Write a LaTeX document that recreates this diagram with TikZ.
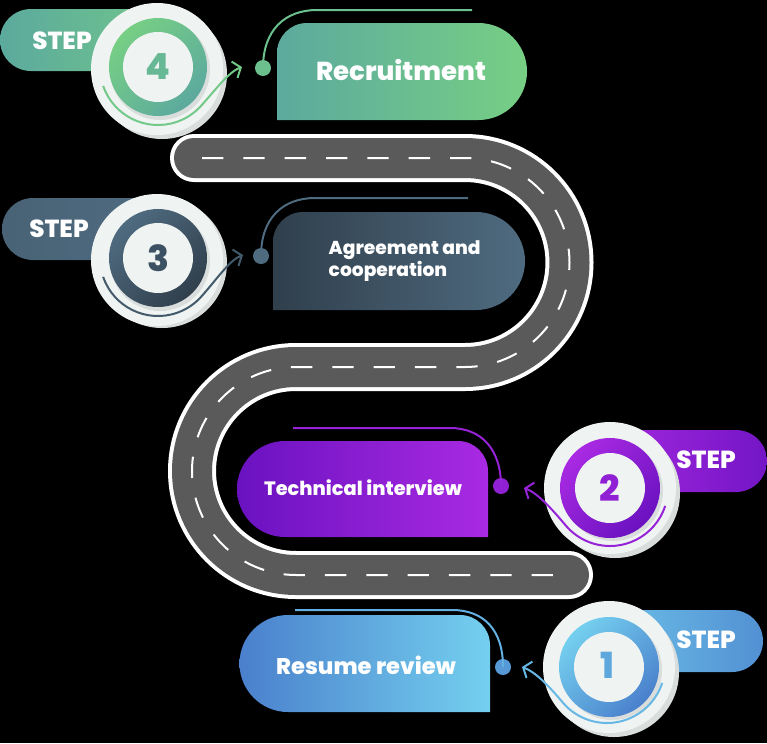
\documentclass[tikz,border=0pt]{standalone}
\usepackage{fontspec}
\setmainfont{Poppins}[BoldFont={* ExtraBold}]
\usetikzlibrary{arrows.meta}

\definecolor{road}{HTML}{5A5A5A}
\definecolor{halo}{HTML}{EFF3F2}
\definecolor{haloshade}{HTML}{D9DDDC}
\definecolor{grnA}{HTML}{5CA99E}
\definecolor{grnB}{HTML}{77CF84}
\definecolor{slateA}{HTML}{303F4C}
\definecolor{slateB}{HTML}{4F6B80}
\definecolor{purA}{HTML}{6A12C0}
\definecolor{purB}{HTML}{A92AE2}
\definecolor{bluA}{HTML}{4A80CC}
\definecolor{bluB}{HTML}{74D0EF}

\begin{document}
\begin{tikzpicture}[x=0.75pt,y=0.75pt,
  steptag/.style={text=white,font=\bfseries\fontsize{18.5}{18.5}\selectfont},
  cardtext/.style={text=white,font=\bfseries\fontsize{18}{20}\selectfont},
  num/.style={font=\bfseries\fontsize{27}{27}\selectfont},
  joint/.style={circle,inner sep=0pt,minimum size=12pt},
  guide/.style={line width=1.5pt},
  curl/.style={line width=1.5pt,-{Straight Barb[length=5pt,width=13pt,line width=1.5pt]}}]
  \fill[black] (0,0) rectangle (767,-743);

  % road
  \draw[white,line width=36pt,line cap=round] (194,-158) -- (465,-158) arc[start angle=90,end angle=-90,radius=104.5]
    -- (296,-367) arc[start angle=90,end angle=270,radius=104] -- (569,-575);
  \draw[road,line width=30pt,line cap=round] (194,-158) -- (465,-158) arc[start angle=90,end angle=-90,radius=104.5]
    -- (296,-367) arc[start angle=90,end angle=270,radius=104] -- (569,-575);
  \draw[white,line width=1.5pt,dash pattern=on 16pt off 15pt,dash phase=-6pt] (194,-158) -- (465,-158) arc[start angle=90,end angle=-90,radius=104.5]
    -- (296,-367) arc[start angle=90,end angle=270,radius=104] -- (569,-575);

  % step 4
  \shade[left color=grnA,right color=grnB!70!grnA] (157,-9) -- (31,-9) arc[start angle=90,end angle=270,radius=31] -- (157,-71) -- cycle;
  \node[steptag] (s4) at (62,-41) {STEP};
  \fill[haloshade] (162,-74) circle (65);
  \fill[halo] (157,-69) circle (66);
  \fill[haloshade] (160,-70) circle (50);
  \shade[top color=grnB,bottom color=grnA,shading angle=45] (158,-67) circle (49);
  \fill[halo] (158,-67) circle (35);
  \node[num,text=grnA!60!grnB] (b4) at (158,-67) {4};
  \coordinate (t4) at (242,-67);
  \draw[curl,grnB!85!grnA] (b4.center) ++(199:58) arc[start angle=199,end angle=318,radius=58]
    .. controls +(48:22) and +(200:14) .. (t4);
  \shade[left color=grnA,right color=grnB] (277,-120) -- (277,-53) arc[start angle=180,end angle=90,radius=30]
    -- (478.5,-23) arc[start angle=90,end angle=-90,radius=48.5] -- cycle;
  \node[cardtext,font=\bfseries\fontsize{19.5}{20}\selectfont] (c4) at (401,-70) {Recruitment};
  \node[joint,fill=grnB!60!grnA] (d4) at (263,-68) {};
  \coordinate (g4) at (472,-10);
  \draw[guide,grnB!60!grnA] (d4.center) .. controls (263,-30) and (285,-10) .. (317,-10) -- (g4);

  % step 3
  \shade[left color=slateB!80!slateA,right color=slateB] (157,-198) -- (33,-198) arc[start angle=90,end angle=270,radius=31] -- (157,-260) -- cycle;
  \node[steptag] (s3) at (59,-229) {STEP};
  \fill[haloshade] (162,-263) circle (65);
  \fill[halo] (157,-260) circle (66);
  \fill[haloshade] (160,-261) circle (50);
  \shade[top color=slateB,bottom color=slateA,shading angle=45] (158,-258) circle (49);
  \fill[halo] (158,-258) circle (35);
  \node[num,text=slateA!60!slateB] (b3) at (158,-258) {3};
  \coordinate (t3) at (243,-255);
  \draw[curl,slateA!40!slateB] (b3.center) ++(199:58) arc[start angle=199,end angle=318,radius=58]
    .. controls +(48:22) and +(200:14) .. (t3);
  \shade[left color=slateA,right color=slateB] (273,-310) -- (273,-242) arc[start angle=180,end angle=90,radius=30]
    -- (476,-212) arc[start angle=90,end angle=-90,radius=49] -- cycle;
  \node[cardtext,font=\bfseries\fontsize{14}{16.5}\selectfont,align=left,anchor=west] (c3) at (324,-261) {Agreement and\\cooperation};
  \node[joint,fill=slateB] (d3) at (261,-256) {};
  \coordinate (g3) at (468,-198);
  \draw[guide,slateB] (d3.center) .. controls (261,-218) and (283,-198) .. (315,-198) -- (g3);

  % step 2
  \shade[left color=purB!90!purA,right color=purA!85!purB] (608,-430) -- (736,-430) arc[start angle=90,end angle=-90,radius=31] -- (608,-492) -- cycle;
  \node[steptag] (s2) at (706,-460) {STEP};
  \fill[haloshade] (615,-493) circle (65);
  \fill[halo] (610,-488) circle (66);
  \fill[haloshade] (613,-491) circle (50);
  \shade[top color=purB,bottom color=purA,shading angle=45] (610,-488) circle (50);
  \fill[halo] (610,-488) circle (35);
  \node[num,text=purA!40!purB] (b2) at (610,-488) {2};
  \coordinate (t2) at (524,-488);
  \draw[curl,purA!30!purB] (b2.center) ++(-18:58) arc[start angle=-18,end angle=-140,radius=58]
    .. controls +(130:22) and +(-20:14) .. (t2);
  \shade[left color=purA,right color=purB] (488,-537) -- (488,-471) arc[start angle=0,end angle=90,radius=30]
    -- (285,-441) arc[start angle=90,end angle=270,radius=48] -- cycle;
  \node[cardtext,font=\bfseries\fontsize{14.5}{16}\selectfont] (c2) at (363,-488) {Technical interview};
  \node[joint,fill=purA!40!purB] (d2) at (501,-486) {};
  \coordinate (g2) at (293,-428);
  \draw[guide,purA!30!purB] (d2.center) .. controls (501,-450) and (482,-428) .. (450,-428) -- (g2);

  % step 1
  \shade[left color=bluB!80!bluA,right color=bluA!80!bluB] (605,-610) -- (732,-610) arc[start angle=90,end angle=-90,radius=31] -- (605,-672) -- cycle;
  \node[steptag] (s1) at (706,-640) {STEP};
  \fill[haloshade] (614,-672) circle (65);
  \fill[halo] (609,-667) circle (66);
  \fill[haloshade] (612,-670) circle (50);
  \shade[top color=bluB,bottom color=bluA,shading angle=45] (609,-667) circle (50);
  \fill[halo] (609,-667) circle (35);
  \node[num,text=bluA!50!bluB] (b1) at (607,-665) {1};
  \coordinate (t1) at (522,-667);
  \draw[curl,bluB!70!bluA] (b1.center) ++(-18:58) arc[start angle=-18,end angle=-140,radius=58]
    .. controls +(130:22) and +(-20:14) .. (t1);
  \shade[left color=bluA,right color=bluB] (490,-712) -- (490,-645) arc[start angle=0,end angle=90,radius=30]
    -- (288,-615) arc[start angle=90,end angle=270,radius=48.5] -- cycle;
  \node[cardtext,font=\bfseries\fontsize{17}{20}\selectfont] (c1) at (366,-665) {Resume review};
  \node[joint,fill=bluA!70!bluB] (d1) at (503,-667) {};
  \coordinate (g1) at (295,-610);
  \draw[guide,bluA!40!bluB] (d1.center) .. controls (503,-630) and (484,-610) .. (452,-610) -- (g1);
\end{tikzpicture}
\end{document}
